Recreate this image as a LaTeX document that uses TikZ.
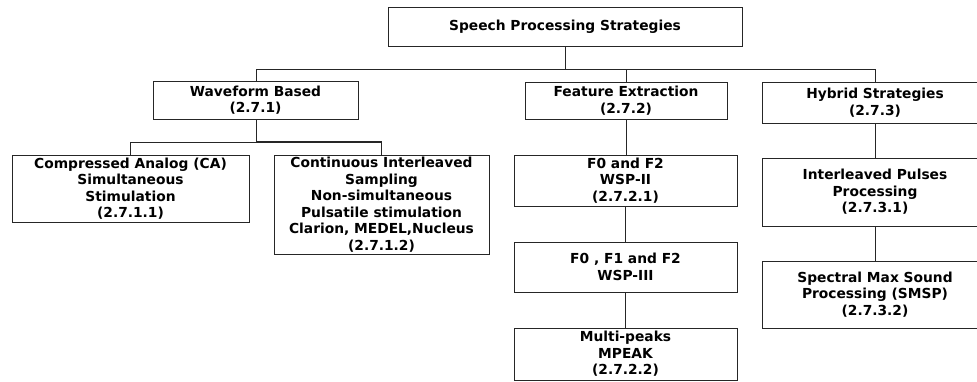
\documentclass[tikz,border=0pt]{standalone}
\usepackage{fontspec}
\setmainfont{DejaVu Sans}
\begin{document}
\begin{tikzpicture}[x=1pt,y=-1pt,
  box/.style={draw=black!85, line width=1pt, inner sep=0pt, outer sep=0pt,
    align=center, font=\bfseries\fontsize{13.8}{16.5}\selectfont},
  link/.style={draw=black!85, line width=1pt}]
\useasboundingbox (0,0) rectangle (977,381);
% root
\node[box, minimum width=354, minimum height=39] (root) at (565,26.5) {Speech Processing Strategies};
% first level
\node[box, minimum width=205, minimum height=38] (wave) at (255.5,100) {Waveform Based\\(2.7.1)};
\node[box, minimum width=202, minimum height=37] (feat) at (626,100.5) {Feature Extraction\\(2.7.2)};
\node[box, minimum width=226, minimum height=41] (hyb) at (875,102.5) {Hybrid Strategies\\(2.7.3)};
% waveform branch
\node[box, minimum width=237, minimum height=67] (ca) at (130.5,188.5)
  {Compressed Analog (CA)\\Simultaneous\\Stimulation\\(2.7.1.1)};
\node[box, minimum width=215, minimum height=99] (cis) at (381.5,204.5)
  {Continuous Interleaved\\Sampling\\Non-simultaneous\\Pulsatile stimulation\\Clarion, MEDEL,Nucleus\\(2.7.1.2)};
% feature extraction branch
\node[box, minimum width=223, minimum height=51] (ftwo) at (625.5,180.5) {F0 and F2\\WSP-II\\(2.7.2.1)};
\node[box, minimum width=223, minimum height=50] (fthree) at (625.5,267) {F0 , F1 and F2\\WSP-III};
\node[box, minimum width=223, minimum height=52] (mpeak) at (625.5,354) {Multi-peaks\\MPEAK\\(2.7.2.2)};
% hybrid branch
\node[box, minimum width=226, minimum height=68] (ipp) at (875,192) {Interleaved Pulses\\Processing\\(2.7.3.1)};
\node[box, minimum width=226, minimum height=67] (smsp) at (875,294.5) {Spectral Max Sound\\Processing (SMSP)\\(2.7.3.2)};

% top bus
\coordinate (busL) at (256,69);
\coordinate (busR) at (875,69);
\draw[link] (root.south) -- (root.south |- busL);
\draw[link] (busL) -- (busR);
\draw[link] (busL) -- (busL |- wave.north);
\draw[link] (feat.north |- busL) -- (feat.north);
\draw[link] (busR) -- (hyb.north);
% waveform bus
\coordinate (wbus) at (256,142);
\draw[link] (wbus |- wave.south) -- (wbus);
\draw[link] (ca.north |- wbus) -- (wbus);
\draw[link, line width=1.8pt] (wbus) -- (cis.north |- wbus);
\draw[link] (ca.north |- wbus) -- (ca.north);
\draw[link] (cis.north |- wbus) -- (cis.north);
% chains
\draw[link] (feat.south) -- (feat.south |- ftwo.north);
\draw[link] (ftwo.south) -- (ftwo.south |- fthree.north);
\draw[link] (fthree.south) -- (fthree.south |- mpeak.north);
\draw[link] (hyb.south) -- (ipp.north);
\draw[link] (ipp.south) -- (smsp.north);
\end{tikzpicture}
\end{document}
